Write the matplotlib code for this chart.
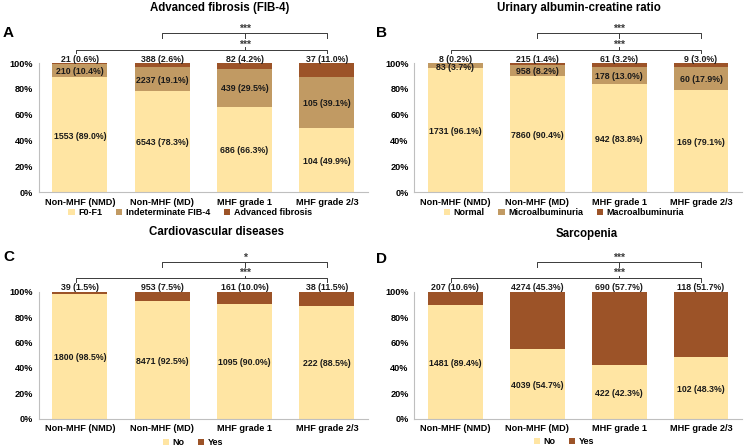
import matplotlib.pyplot as plt
from matplotlib.patches import Patch

plt.rcParams['font.family'] = ['Liberation Sans', 'DejaVu Sans']
plt.rcParams['font.weight'] = 'bold'

# groups on the x axis
groups = ['Non-MHF (NMD)', 'Non-MHF (MD)', 'MHF grade 1', 'MHF grade 2/3']

# A: advanced fibrosis (FIB-4)
fib_names = ['F0-F1', 'Indeterminate FIB-4', 'Advanced fibrosis']
fib_pct = [[89.0, 78.3, 66.3, 49.9],
           [10.4, 19.1, 29.5, 39.1],
           [0.6, 2.6, 4.2, 11.0]]
fib_n = [[1553, 6543, 686, 104],
         [210, 2237, 439, 105],
         [21, 388, 82, 37]]

# B: urinary albumin-creatine ratio
uacr_names = ['Normal', 'Microalbuminuria', 'Macroalbuminuria']
uacr_pct = [[96.1, 90.4, 83.8, 79.1],
            [3.7, 8.2, 13.0, 17.9],
            [0.2, 1.4, 3.2, 3.0]]
uacr_n = [[1731, 7860, 942, 169],
          [83, 958, 178, 60],
          [8, 215, 61, 9]]

# C: cardiovascular diseases
cvd_names = ['No', 'Yes']
cvd_pct = [[98.5, 92.5, 90.0, 88.5],
           [1.5, 7.5, 10.0, 11.5]]
cvd_n = [[1800, 8471, 1095, 222],
         [39, 953, 161, 38]]

# D: sarcopenia
sarc_names = ['No', 'Yes']
sarc_pct = [[89.4, 54.7, 42.3, 48.3],
            [10.6, 45.3, 57.7, 51.7]]
sarc_n = [[1481, 4039, 422, 102],
          [207, 4274, 690, 118]]

# significance marks: (upper bracket MD vs 2/3, lower bracket NMD vs 2/3)
sig_a = ['***', '***']
sig_b = ['***', '***']
sig_c = ['*', '***']
sig_d = ['***', '***']

yellow = '#FFE5A3'
tan = '#C19A63'
brown = '#9C5328'


def panel(ax, pct, n, colors, sig):
    x = range(len(groups))
    bottom = [0] * len(groups)
    nseg = len(pct)
    for k in range(nseg):
        ax.bar(x, pct[k], bottom=bottom, width=0.67, color=colors[k], zorder=2)
        for i in x:
            if k == nseg - 1:
                y = 103
            else:
                y = bottom[i] + pct[k][i] / 2 - 1
            ax.text(i, y, f'{n[k][i]} ({pct[k][i]:.1f}%)', ha='center', va='center',
                    fontsize=6.3, fontweight='bold', color='#1a1a1a', clip_on=False)
        bottom = [b + p for b, p in zip(bottom, pct[k])]

    lc = '#3a3a3a'
    # upper bracket
    ax.plot([1, 1, 3, 3], [119.5, 123, 123, 119.5], color=lc, lw=0.7, clip_on=False)
    ax.plot([2, 2], [123, 119.5], color=lc, lw=0.7, clip_on=False)
    ax.text(2, 126.5, sig[0], ha='center', va='center', fontsize=7.5, color=lc)
    # lower bracket
    ax.plot([-0.05, -0.05, 3, 3], [107.5, 110.5, 110.5, 107.5], color=lc, lw=0.7, clip_on=False)
    ax.plot([2, 2], [110.5, 112.5], color=lc, lw=0.7, clip_on=False)
    ax.text(2, 114.5, sig[1], ha='center', va='center', fontsize=7.5, color=lc)

    ax.set_xlim(-0.5, 3.5)
    ax.set_ylim(0, 100)
    ax.set_yticks([0, 20, 40, 60, 80, 100])
    ax.set_yticklabels(['0%', '20%', '40%', '60%', '80%', '100%'])
    ax.set_xticks(list(x))
    ax.set_xticklabels(groups)
    ax.tick_params(length=0, labelsize=6.6, pad=4)
    for lab in ax.get_xticklabels() + ax.get_yticklabels():
        lab.set_fontweight('bold')
    for s in ['top', 'right']:
        ax.spines[s].set_visible(False)
    for s in ['left', 'bottom']:
        ax.spines[s].set_color('#BFBFBF')
        ax.spines[s].set_linewidth(0.8)


fig = plt.figure(figsize=(7.45, 4.48), dpi=100)

axA = fig.add_axes([0.052, 0.571, 0.442, 0.288])
axB = fig.add_axes([0.556, 0.571, 0.440, 0.288])
axC = fig.add_axes([0.052, 0.065, 0.442, 0.284])
axD = fig.add_axes([0.556, 0.065, 0.440, 0.284])

panel(axA, fib_pct, fib_n, [yellow, tan, brown], sig_a)
panel(axB, uacr_pct, uacr_n, [yellow, tan, brown], sig_b)
panel(axC, cvd_pct, cvd_n, [yellow, brown], sig_c)
panel(axD, sarc_pct, sarc_n, [yellow, brown], sig_d)

# titles
fig.text(0.295, 0.982, 'Advanced fibrosis (FIB-4)', ha='center', va='center', fontsize=8.3, fontweight='bold')
fig.text(0.777, 0.982, 'Urinary albumin-creatine ratio', ha='center', va='center', fontsize=8.3, fontweight='bold')
fig.text(0.291, 0.482, 'Cardiovascular diseases', ha='center', va='center', fontsize=8.3, fontweight='bold')
fig.text(0.787, 0.478, 'Sarcopenia', ha='center', va='center', fontsize=8.3, fontweight='bold')

# panel letters
for lx, ly, let in [(0.004, 0.926, 'A'), (0.505, 0.926, 'B'), (0.004, 0.426, 'C'), (0.505, 0.422, 'D')]:
    fig.text(lx, ly, let, ha='left', va='center', fontsize=11, fontweight='bold')

# legends
legs = [(fib_names, [yellow, tan, brown], 0.255, 0.525),
        (uacr_names, [yellow, tan, brown], 0.757, 0.525),
        (cvd_names, [yellow, brown], 0.259, 0.012),
        (sarc_names, [yellow, brown], 0.757, 0.014)]
for names, cols, lx, ly in legs:
    handles = [Patch(facecolor=c, edgecolor='none') for c in cols]
    fig.legend(handles, names, loc='center', bbox_to_anchor=(lx, ly), ncol=len(names),
               frameon=False, handlelength=0.7, handleheight=0.7,
               handletextpad=0.4, columnspacing=1.5, borderpad=0,
               prop={'weight': 'bold', 'size': 6.5})

fig.savefig('out.png', dpi=100)
